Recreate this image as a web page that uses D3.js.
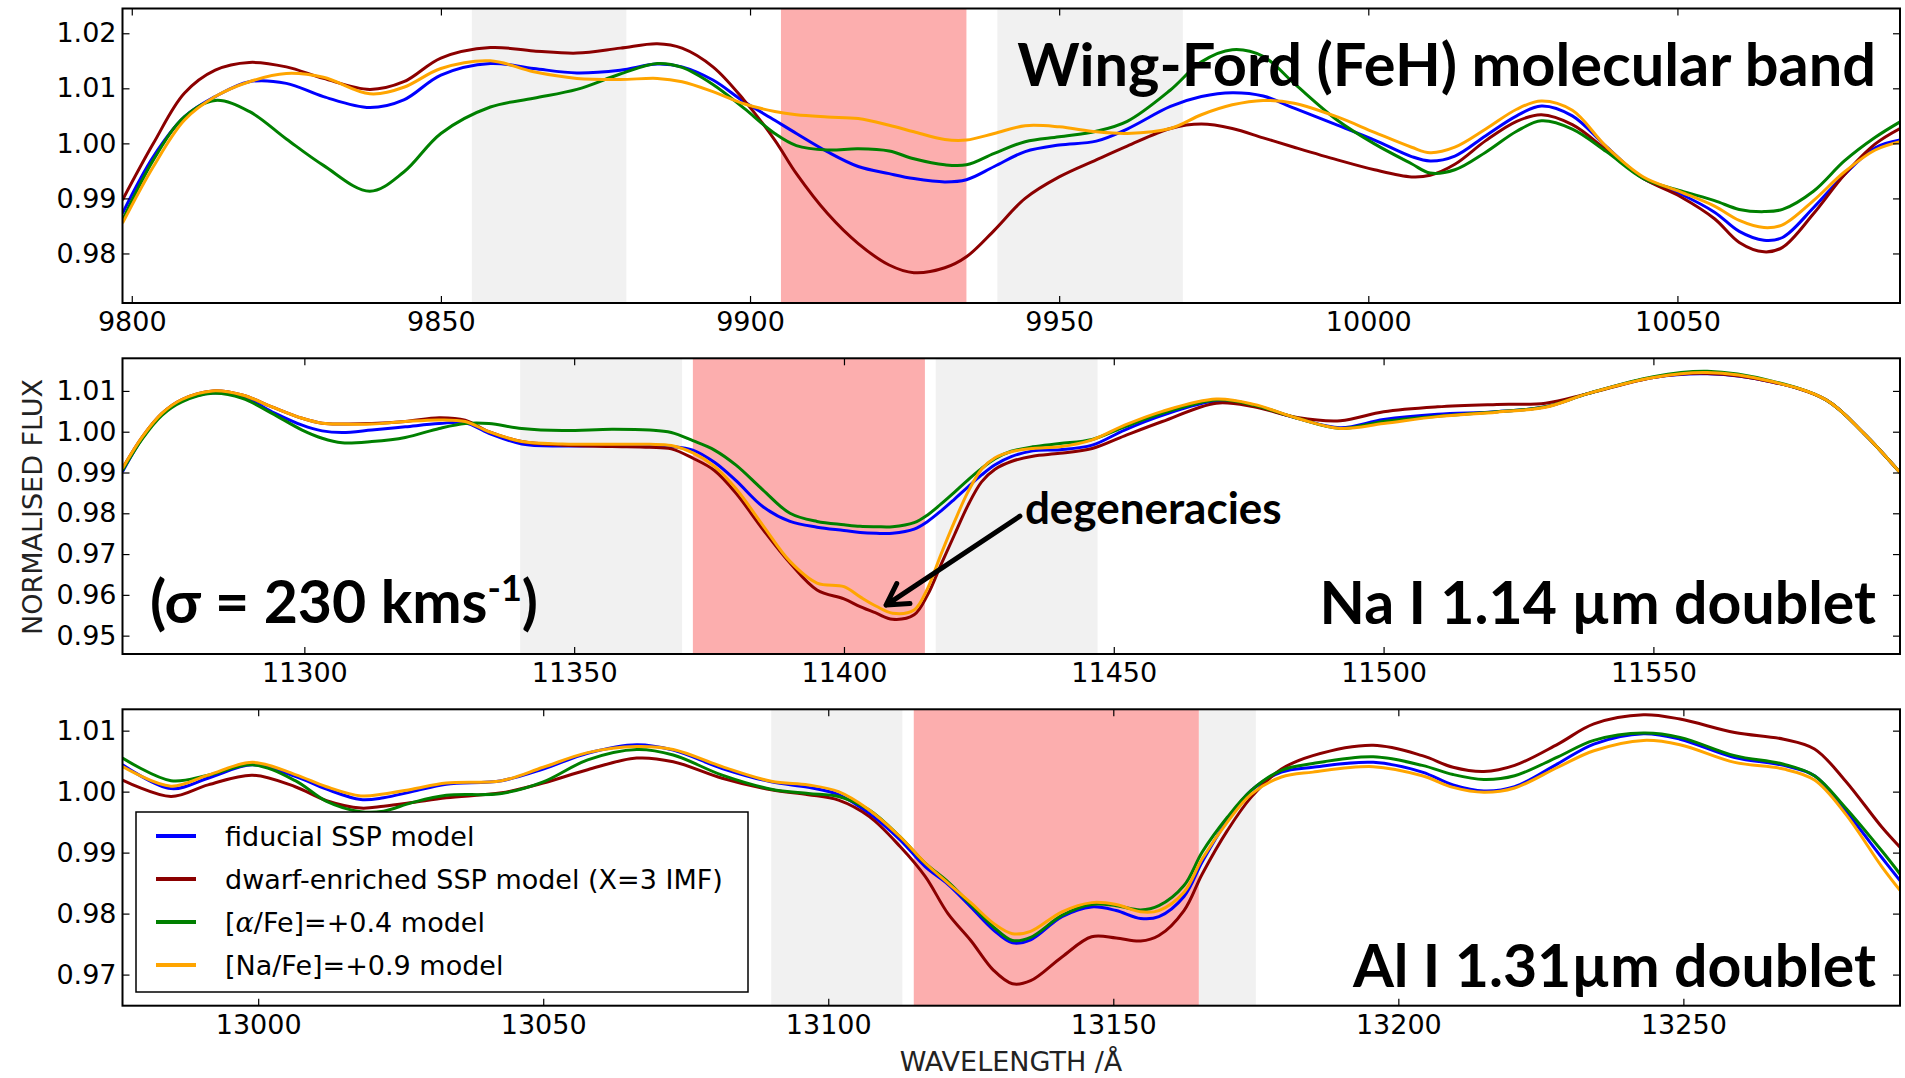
<!DOCTYPE html>
<html>
<head>
<meta charset="utf-8">
<script src="https://cdn.jsdelivr.net/npm/d3@7"></script>
<style>
  html, body { margin: 0; padding: 0; background: #ffffff; }
  svg { display: block; }
</style>
</head>
<body>
<svg id="chart" width="1905" height="1078"></svg>
<script>
// ---------- model names (legend order = drawing order) ----------
const modelNames = [
  "fiducial SSP model",
  "dwarf-enriched SSP model (X=3 IMF)",
  "[\u03b1/Fe]=+0.4 model",
  "[Na/Fe]=+0.9 model"
];
const modelColors = ["#0000ff", "#8b0000", "#008000", "#ffa500"];

// ---------- Wing-Ford (FeH) band, ~9800-10086 Å ----------
const wfWave = [9798.5, 9803.5, 9808.5, 9813.5, 9819, 9825, 9831, 9838.5, 9844, 9850,
  9858, 9865, 9872, 9879, 9885, 9889, 9894, 9899, 9904, 9907.5,
  9912.5, 9917.5, 9922.5, 9926.5, 9931.5, 9935, 9939.5, 9944.5, 9950, 9956,
  9961, 9968, 9973, 9978, 9983, 9988, 9995, 10001, 10007, 10010,
  10014, 10019, 10024, 10028, 10033, 10038.5, 10044.5, 10050.5, 10056, 10060,
  10064, 10067, 10072, 10077, 10082, 10086];
const wfFiducial = [0.9873, 0.9976, 1.0048, 1.0085, 1.0112, 1.0109, 1.0085, 1.0065, 1.0079, 1.0124,
  1.0145, 1.0136, 1.0128, 1.0133, 1.0144, 1.0139, 1.0115, 1.0076, 1.0042, 1.0018,
  0.9985, 0.9958, 0.9945, 0.9936, 0.9930, 0.9934, 0.9958, 0.9985, 0.9997, 1.0004,
  1.0026, 1.0067, 1.0085, 1.0092, 1.0086, 1.0064, 1.0033, 1.0006, 0.9976, 0.9968,
  0.9977, 1.0014, 1.0050, 1.0068, 1.0050, 0.9994, 0.9936, 0.9908, 0.9875, 0.9840,
  0.9824, 0.9829, 0.9883, 0.9943, 0.9992, 1.0006];
const wfDwarf = [0.9897, 1.0000, 1.0091, 1.0133, 1.0147, 1.0139, 1.0118, 1.0098, 1.0112, 1.0155,
  1.0174, 1.0168, 1.0164, 1.0173, 1.0181, 1.0173, 1.0139, 1.0079, 1.0006, 0.9945,
  0.9873, 0.9818, 0.9779, 0.9765, 0.9774, 0.9794, 0.9842, 0.9900, 0.9939, 0.9970,
  0.9995, 1.0027, 1.0035, 1.0027, 1.0010, 0.9993, 0.9970, 0.9952, 0.9939, 0.9942,
  0.9962, 1.0005, 1.0040, 1.0052, 1.0034, 0.9988, 0.9936, 0.9903, 0.9863, 0.9820,
  0.9803, 0.9811, 0.9872, 0.9943, 0.9999, 1.0027];
const wfAlpha = [0.9860, 0.9970, 1.0048, 1.0078, 1.0058, 1.0008, 0.9960, 0.9913, 0.9948, 1.0018,
  1.0066, 1.0082, 1.0098, 1.0126, 1.0145, 1.0138, 1.0107, 1.0064, 1.0018, 0.9996,
  0.9988, 0.9990, 0.9986, 0.9972, 0.9961, 0.9961, 0.9982, 1.0003, 1.0012, 1.0022,
  1.0040, 1.0097, 1.0148, 1.0170, 1.0158, 1.0109, 1.0042, 0.9999, 0.9963, 0.9946,
  0.9952, 0.9984, 1.0022, 1.0041, 1.0026, 0.9985, 0.9936, 0.9914, 0.9896, 0.9880,
  0.9876, 0.9880, 0.9913, 0.9968, 1.0011, 1.0039];
const wfSodium = [0.9855, 0.9958, 1.0042, 1.0085, 1.0112, 1.0127, 1.0120, 1.0090, 1.0102, 1.0136,
  1.0150, 1.0130, 1.0118, 1.0116, 1.0118, 1.0112, 1.0094, 1.0072, 1.0058, 1.0052,
  1.0048, 1.0045, 1.0033, 1.0021, 1.0007, 1.0006, 1.0018, 1.0032, 1.0030, 1.0021,
  1.0018, 1.0027, 1.0052, 1.0070, 1.0078, 1.0073, 1.0048, 1.0020, 0.9993, 0.9983,
  0.9993, 1.0026, 1.0062, 1.0077, 1.0060, 0.9994, 0.9939, 0.9912, 0.9886, 0.9860,
  0.9847, 0.9852, 0.9896, 0.9948, 0.9988, 1.0003];
const wfXTicks = [9800, 9850, 9900, 9950, 10000, 10050];
const wfYTicks = [0.98, 0.99, 1.00, 1.01, 1.02];
const wfYRange = [0.9710, 1.0245];
const wfGrey = [[9855, 9880], [9940, 9970]];
const wfPink = [[9905, 9935]];

// ---------- Na I 1.14 µm doublet ----------
const naWave = [11266.3, 11270, 11273.6, 11277.3, 11283, 11288.5, 11294, 11299.6, 11303.3, 11307,
  11312.5, 11318.7, 11325, 11329.8, 11334.2, 11340.3, 11347.8, 11357, 11364, 11368,
  11372, 11376, 11380, 11385, 11390, 11395,
  11400, 11403, 11406, 11409, 11413, 11415.5, 11418, 11420.5, 11423, 11425.5,
  11428, 11431, 11435, 11440, 11446, 11452, 11459,
  11469, 11476, 11484, 11492, 11500, 11510, 11521, 11530, 11538, 11550,
  11560, 11572, 11582, 11589, 11595.7];
const naFiducial = [0.9902, 0.9985, 1.0043, 1.0076, 1.0095, 1.0086, 1.0049, 1.0016, 1.0002, 0.9998,
  1.0004, 1.0012, 1.0020, 1.0022, 0.9996, 0.9970, 0.9965, 0.9966, 0.9966, 0.9964,
  0.9955, 0.9925, 0.9880, 0.9816, 0.9780, 0.9766,
  0.9758, 0.9753, 0.9751, 0.9751, 0.9761, 0.9780, 0.9806, 0.9835, 0.9865, 0.9894,
  0.9919, 0.9939, 0.9953, 0.9956, 0.9967, 1.0004, 1.0040,
  1.0075, 1.0064, 1.0033, 1.0010, 1.0030, 1.0043, 1.0049, 1.0061, 1.0094, 1.0133,
  1.0142, 1.0122, 1.0078, 0.9996, 0.9900];
const naDwarf = [0.9910, 0.9988, 1.0045, 1.0079, 1.0100, 1.0090, 1.0061, 1.0033, 1.0021, 1.0019,
  1.0020, 1.0025, 1.0034, 1.0028, 1.0000, 0.9976, 0.9967, 0.9964, 0.9962, 0.9958,
  0.9935, 0.9905, 0.9849, 0.9760, 0.9678, 0.9612,
  0.9590, 0.9571, 0.9555, 0.9540, 0.9551, 0.9600, 0.9675, 0.9748, 0.9820, 0.9877,
  0.9908, 0.9927, 0.9940, 0.9947, 0.9959, 0.9990, 1.0025,
  1.0070, 1.0061, 1.0035, 1.0027, 1.0049, 1.0061, 1.0067, 1.0070, 1.0094, 1.0133,
  1.0143, 1.0122, 1.0078, 0.9996, 0.9900];
const naAlpha = [0.9905, 0.9983, 1.0040, 1.0073, 1.0094, 1.0082, 1.0045, 1.0004, 0.9984, 0.9973,
  0.9976, 0.9986, 1.0008, 1.0020, 1.0020, 1.0008, 1.0003, 1.0006, 1.0004, 0.9998,
  0.9978, 0.9955, 0.9918, 0.9857, 0.9800, 0.9780,
  0.9772, 0.9768, 0.9767, 0.9767, 0.9777, 0.9796, 0.9823, 0.9852, 0.9882, 0.9910,
  0.9934, 0.9952, 0.9963, 0.9971, 0.9981, 1.0012, 1.0045,
  1.0078, 1.0065, 1.0033, 1.0008, 1.0025, 1.0038, 1.0049, 1.0061, 1.0094, 1.0135,
  1.0148, 1.0124, 1.0078, 0.9996, 0.9900];
const naSodium = [0.9910, 0.9988, 1.0045, 1.0079, 1.0100, 1.0090, 1.0061, 1.0033, 1.0021, 1.0019,
  1.0019, 1.0025, 1.0029, 1.0025, 1.0000, 0.9976, 0.9970, 0.9969, 0.9969, 0.9966,
  0.9948, 0.9915, 0.9860, 0.9770, 0.9682, 0.9629,
  0.9620, 0.9595, 0.9572, 0.9555, 0.9563, 0.9616, 0.9700, 0.9780, 0.9853, 0.9908,
  0.9936, 0.9951, 0.9959, 0.9963, 0.9980, 1.0016, 1.0050,
  1.0080, 1.0067, 1.0033, 1.0008, 1.0020, 1.0037, 1.0048, 1.0060, 1.0094, 1.0133,
  1.0145, 1.0123, 1.0078, 0.9996, 0.9900];
const naXTicks = [11300, 11350, 11400, 11450, 11500, 11550];
const naYTicks = [0.95, 0.96, 0.97, 0.98, 0.99, 1.00, 1.01];
const naYRange = [0.9455, 1.0180];
const naGrey = [[11340, 11370], [11417, 11447]];
const naPink = [[11372, 11415]];

// ---------- Al I 1.31 µm doublet ----------
const alWave = [12976.2, 12984.7, 12991.2, 12999, 13006.5, 13012, 13018, 13022, 13027, 13033,
  13042.7, 13050, 13057.8, 13066.4, 13072.8, 13081.4, 13090, 13096.5, 13101.8, 13107.2,
  13112.6, 13117, 13121, 13125, 13129, 13132.3, 13135.5, 13141, 13146.2, 13150.5,
  13154.8, 13158, 13162.4, 13165.6, 13170, 13174.2, 13179.5, 13185, 13195.6, 13204.2,
  13209.6, 13215, 13220.4, 13228, 13234.3, 13243, 13249.4, 13259, 13267.6, 13273,
  13278.4, 13284.8, 13288];
const alFiducial = [1.0044, 1.0005, 1.0022, 1.0044, 1.0025, 1.0004, 0.9987, 0.9990, 1.0000, 1.0012,
  1.0018, 1.0037, 1.0063, 1.0077, 1.0068, 1.0038, 1.0016, 1.0007, 0.9995, 0.9964,
  0.9921, 0.9877, 0.9848, 0.9811, 0.9773, 0.9752, 0.9757, 0.9795, 0.9811, 0.9805,
  0.9792, 0.9795, 0.9828, 0.9885, 0.9953, 1.0002, 1.0032, 1.0040, 1.0048, 1.0032,
  1.0011, 1.0001, 1.0008, 1.0046, 1.0078, 1.0095, 1.0086, 1.0056, 1.0043, 1.0026,
  0.9969, 0.9892, 0.9854];
const alDwarf = [1.0019, 0.9992, 1.0011, 1.0027, 1.0008, 0.9985, 0.9973, 0.9976, 0.9982, 0.9990,
  0.9998, 1.0014, 1.0036, 1.0055, 1.0049, 1.0022, 1.0003, 0.9995, 0.9986, 0.9959,
  0.9910, 0.9861, 0.9800, 0.9756, 0.9707, 0.9685, 0.9690, 0.9729, 0.9762, 0.9760,
  0.9755, 0.9764, 0.9805, 0.9865, 0.9936, 0.9991, 1.0037, 1.0059, 1.0076, 1.0059,
  1.0040, 1.0033, 1.0043, 1.0078, 1.0111, 1.0126, 1.0119, 1.0097, 1.0086, 1.0070,
  1.0018, 0.9942, 0.9909];
const alAlpha = [1.0055, 1.0018, 1.0027, 1.0044, 1.0018, 0.9984, 0.9967, 0.9968, 0.9982, 0.9994,
  0.9997, 1.0016, 1.0052, 1.0069, 1.0060, 1.0027, 1.0004, 0.9997, 0.9992, 0.9970,
  0.9926, 0.9883, 0.9852, 0.9815, 0.9778, 0.9756, 0.9761, 0.9797, 0.9815, 0.9813,
  0.9806, 0.9813, 0.9846, 0.9901, 0.9958, 1.0002, 1.0035, 1.0046, 1.0057, 1.0043,
  1.0028, 1.0020, 1.0026, 1.0057, 1.0084, 1.0096, 1.0089, 1.0059, 1.0045, 1.0026,
  0.9974, 0.9903, 0.9865];
const alSodium = [1.0041, 1.0009, 1.0027, 1.0048, 1.0028, 1.0008, 0.9993, 0.9996, 1.0004, 1.0014,
  1.0018, 1.0040, 1.0064, 1.0074, 1.0069, 1.0041, 1.0017, 1.0011, 1.0000, 0.9970,
  0.9926, 0.9883, 0.9850, 0.9818, 0.9784, 0.9767, 0.9771, 0.9803, 0.9818, 0.9815,
  0.9803, 0.9805, 0.9835, 0.9890, 0.9950, 0.9996, 1.0024, 1.0032, 1.0041, 1.0026,
  1.0007, 0.9999, 1.0006, 1.0040, 1.0067, 1.0084, 1.0077, 1.0048, 1.0037, 1.0019,
  0.9964, 0.9877, 0.9838];
const alXTicks = [13000, 13050, 13100, 13150, 13200, 13250];
const alYTicks = [0.97, 0.98, 0.99, 1.00, 1.01];
const alYRange = [0.9649, 1.0135];
const alGrey = [[13090, 13113], [13165, 13175]];
const alPink = [[13115, 13165]];

// ---------- annotation text ----------
const panelTitles = ["Wing-Ford (FeH) molecular band", "Na I 1.14 \u00b5m doublet", "Al I 1.31\u00b5m doublet"];
const arrowFrom = [11432.6, 0.9793];   // tail of the "degeneracies" arrow (Å, flux)
const arrowTo = [11407.8, 0.9575];     // arrow tip

// ---------- layout ----------
const svg = d3.select("#chart");
const plotLeft = 122.5, plotRight = 1900;
const panelTops = [8.5, 358.3, 709.3];
const panelBottoms = [303, 654, 1005.7];
const tickFont = "'DejaVu Sans', sans-serif";
const titleFont = "Lato, 'Open Sans', sans-serif";

const panels = [
  { wave: wfWave, series: [wfFiducial, wfDwarf, wfAlpha, wfSodium], xTicks: wfXTicks, yTicks: wfYTicks, yRange: wfYRange, grey: wfGrey, pink: wfPink },
  { wave: naWave, series: [naFiducial, naDwarf, naAlpha, naSodium], xTicks: naXTicks, yTicks: naYTicks, yRange: naYRange, grey: naGrey, pink: naPink },
  { wave: alWave, series: [alFiducial, alDwarf, alAlpha, alSodium], xTicks: alXTicks, yTicks: alYTicks, yRange: alYRange, grey: alGrey, pink: alPink }
];

const defs = svg.append("defs");

panels.forEach((p, i) => {
  const top = panelTops[i], bottom = panelBottoms[i];
  const x = d3.scaleLinear().domain(d3.extent(p.wave)).range([plotLeft, plotRight]);
  const y = d3.scaleLinear().domain(p.yRange).range([bottom, top]);
  p.x = x; p.y = y;

  const clipId = "clip" + i;
  defs.append("clipPath").attr("id", clipId)
    .append("rect").attr("x", plotLeft).attr("y", top)
    .attr("width", plotRight - plotLeft).attr("height", bottom - top);

  const g = svg.append("g").attr("class", "panel");
  const inner = g.append("g").attr("clip-path", `url(#${clipId})`);

  // shaded bands: continuum (grey) and feature (pink)
  inner.selectAll("rect.grey").data(p.grey).join("rect")
    .attr("class", "grey")
    .attr("x", d => x(d[0])).attr("width", d => x(d[1]) - x(d[0]))
    .attr("y", top).attr("height", bottom - top)
    .attr("fill", "#f1f1f1");
  inner.selectAll("rect.pink").data(p.pink).join("rect")
    .attr("class", "pink")
    .attr("x", d => x(d[0])).attr("width", d => x(d[1]) - x(d[0]))
    .attr("y", top).attr("height", bottom - top)
    .attr("fill", "#fcaeae");

  // model spectra
  const line = d3.line()
    .x(d => x(d[0])).y(d => y(d[1]))
    .curve(d3.curveCatmullRom.alpha(0.5));
  p.series.forEach((vals, k) => {
    inner.append("path")
      .datum(p.wave.map((w, j) => [w, vals[j]]))
      .attr("d", line)
      .attr("fill", "none")
      .attr("stroke", modelColors[k])
      .attr("stroke-width", 3)
      .attr("stroke-linejoin", "round");
  });

  // axes: inward ticks on all four sides
  const fmt = d3.format(".2f");
  const axB = g.append("g").attr("transform", `translate(0,${bottom})`)
    .call(d3.axisBottom(x).tickValues(p.xTicks).tickFormat(d3.format("d")).tickSizeInner(-7).tickSizeOuter(0).tickPadding(9));
  const axT = g.append("g").attr("transform", `translate(0,${top})`)
    .call(d3.axisTop(x).tickValues(p.xTicks).tickFormat("").tickSizeInner(-7).tickSizeOuter(0));
  const axL = g.append("g").attr("transform", `translate(${plotLeft},0)`)
    .call(d3.axisLeft(y).tickValues(p.yTicks).tickFormat(fmt).tickSizeInner(-7).tickSizeOuter(0).tickPadding(6));
  const axR = g.append("g").attr("transform", `translate(${plotRight},0)`)
    .call(d3.axisRight(y).tickValues(p.yTicks).tickFormat("").tickSizeInner(-7).tickSizeOuter(0));
  [axB, axT, axL, axR].forEach(a => {
    a.select(".domain").remove();
    a.selectAll(".tick line").attr("stroke", "#000").attr("stroke-width", 1.2);
    a.selectAll("text").attr("font-family", tickFont).attr("font-size", 27).attr("fill", "#000");
  });

  // frame
  g.append("rect").attr("x", plotLeft).attr("y", top)
    .attr("width", plotRight - plotLeft).attr("height", bottom - top)
    .attr("fill", "none").attr("stroke", "#000").attr("stroke-width", 2);

  // big panel title, right-aligned inside the frame
  const titleBase = [86, 624, 987][i];
  g.append("text")
    .attr("x", plotRight - 24).attr("y", titleBase)
    .attr("text-anchor", "end")
    .attr("font-family", titleFont).attr("font-weight", 700)
    .attr("font-size", i === 0 ? 59.5 : 59)
    .attr("fill", "#000")
    .text(panelTitles[i]);
});

// velocity dispersion label in the Na panel
const sig = svg.append("text")
  .attr("x", 150).attr("y", 623)
  .attr("font-family", titleFont).attr("font-weight", 700).attr("font-size", 59)
  .attr("fill", "#000");
sig.append("tspan").text("(\u03c3 = 230 kms");
sig.append("tspan").attr("dy", -22).attr("font-size", 36).text("-1");
sig.append("tspan").attr("dy", 22).text(")");

// "degeneracies" arrow
{
  const p = panels[1];
  const tip = [p.x(arrowTo[0]), p.y(arrowTo[1])];
  const tail = [p.x(arrowFrom[0]), p.y(arrowFrom[1])];
  const dx = tail[0] - tip[0], dy = tail[1] - tip[1];
  const len = Math.hypot(dx, dy), ux = dx / len, uy = dy / len;
  const head = 24, a = Math.PI / 6;
  const w1 = [tip[0] + head * (ux * Math.cos(a) - uy * Math.sin(a)), tip[1] + head * (ux * Math.sin(a) + uy * Math.cos(a))];
  const w2 = [tip[0] + head * (ux * Math.cos(a) + uy * Math.sin(a)), tip[1] + head * (-ux * Math.sin(a) + uy * Math.cos(a))];
  svg.append("path")
    .attr("d", `M${tail[0]},${tail[1]}L${tip[0]},${tip[1]}M${w1[0]},${w1[1]}L${tip[0]},${tip[1]}L${w2[0]},${w2[1]}`)
    .attr("fill", "none").attr("stroke", "#000").attr("stroke-width", 5)
    .attr("stroke-linecap", "round").attr("stroke-linejoin", "round");
  svg.append("text")
    .attr("x", tail[0] + 5).attr("y", tail[1] + 8)
    .attr("font-family", titleFont).attr("font-weight", 700).attr("font-size", 44)
    .attr("fill", "#000")
    .text("degeneracies");
}

// legend in the Al panel
{
  const lg = svg.append("g");
  lg.append("rect").attr("x", 136).attr("y", 812).attr("width", 612).attr("height", 180)
    .attr("fill", "#fff").attr("stroke", "#000").attr("stroke-width", 1.5);
  modelNames.forEach((name, k) => {
    const yy = 836 + k * 43;
    lg.append("line").attr("x1", 156).attr("x2", 196).attr("y1", yy).attr("y2", yy)
      .attr("stroke", modelColors[k]).attr("stroke-width", 4);
    const t = lg.append("text").attr("x", 225).attr("y", yy)
      .attr("dominant-baseline", "central")
      .attr("font-family", tickFont).attr("font-size", 27).attr("fill", "#000");
    if (name.indexOf("\u03b1") >= 0) {
      t.append("tspan").text("[");
      t.append("tspan").attr("font-family", "'DejaVu Serif', serif").attr("font-style", "italic").text("\u03b1");
      t.append("tspan").text(name.slice(name.indexOf("\u03b1") + 1));
    } else {
      t.text(name);
    }
  });
}

// axis titles
svg.append("text")
  .attr("transform", "translate(42,507) rotate(-90)")
  .attr("text-anchor", "middle")
  .attr("font-family", tickFont).attr("font-size", 27).attr("fill", "#222")
  .text("NORMALISED FLUX");
svg.append("text")
  .attr("x", 1011).attr("y", 1071)
  .attr("text-anchor", "middle")
  .attr("font-family", tickFont).attr("font-size", 27).attr("fill", "#222")
  .text("WAVELENGTH /\u00c5");
</script>
</body>
</html>
